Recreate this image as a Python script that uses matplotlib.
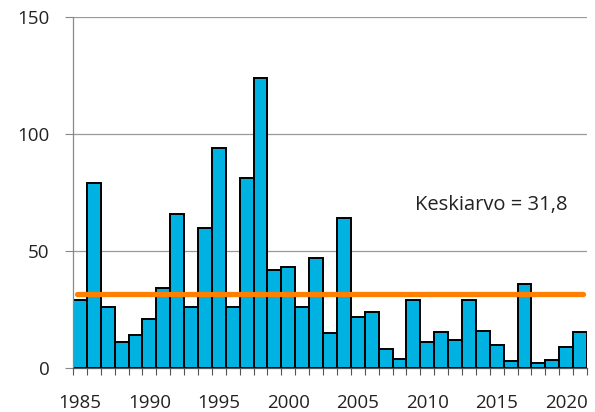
import matplotlib
matplotlib.use("Agg")
import matplotlib.pyplot as plt
import numpy as np

years = list(range(1985, 2022))
values = [29, 79, 26, 11, 14, 21, 34, 66, 26, 60, 94, 26, 81, 124, 42, 43, 26, 47, 15,
          64, 22, 24, 8, 4, 29, 11, 15.5, 12, 29, 16, 10, 3, 36, 2, 3.5, 9, 15.5]
mean_value = 31.8
mean_label = "Keskiarvo = 31,8"
yticks = [0, 50, 100, 150]
xticks = [1985, 1990, 1995, 2000, 2005, 2010, 2015, 2020]

plt.rcParams['font.family'] = ['Open Sans', 'DejaVu Sans']

fig = plt.figure(figsize=(5.95, 4.12), dpi=100)
ax = fig.add_axes([73/595, 1 - 368/412, (587-73)/595, (368-17)/412])

ax.bar(years, values, width=1.0, color='#00B2E2', edgecolor='black', linewidth=1.4, zorder=2)
ax.plot([years[0] - 0.2, years[-1] + 0.2], [mean_value, mean_value], color='#FF7F00',
        linewidth=3.8, solid_capstyle='round', zorder=3)
ax.text(2014.6, 69.5, mean_label, fontsize=14.5, color='#222222', ha='center', va='center')

ax.set_xlim(years[0] - 0.5, years[-1] + 0.5)
ax.set_ylim(0, 150)
ax.set_yticks(yticks)
ax.set_xticks(xticks)
ax.set_xticks(np.arange(years[0] - 0.5, years[-1] + 1.0, 1.0), minor=True)
ax.tick_params(axis='x', which='major', length=0, labelsize=13.5, pad=19, colors='#222222')
ax.tick_params(axis='x', which='minor', length=5, width=0.8, color='#555555')
ax.tick_params(axis='y', length=6, width=0.8, color='#888888', labelsize=13.5, labelcolor='#222222', pad=11)
ax.yaxis.grid(True, color='#999999', linewidth=0.9, zorder=0)
ax.set_axisbelow(True)
for s in ['top', 'right']:
    ax.spines[s].set_visible(False)
ax.spines['left'].set_color('#888888')
ax.spines['bottom'].set_color('#555555')
ax.spines['left'].set_linewidth(0.9)
ax.spines['bottom'].set_linewidth(0.9)

fig.savefig('out.png', dpi=100)
